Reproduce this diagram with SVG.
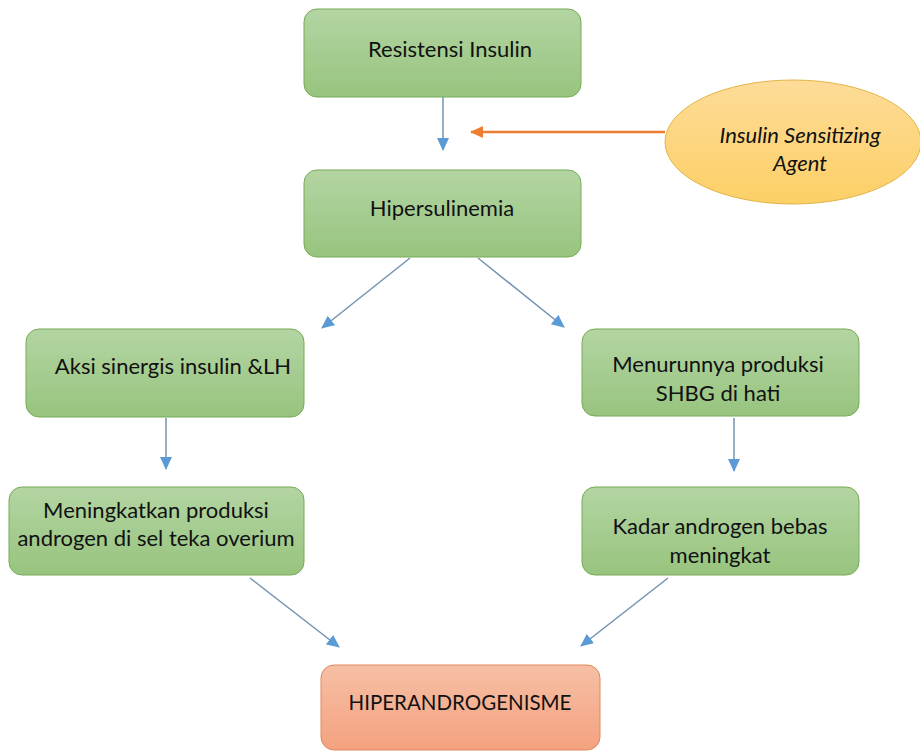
<svg xmlns="http://www.w3.org/2000/svg" width="920" height="751" viewBox="0 0 920 751">
<defs>
<linearGradient id="gGreen" x1="0" y1="0" x2="0" y2="1"><stop offset="0" stop-color="#b4d5a3"/><stop offset="1" stop-color="#97c47e"/></linearGradient>
<linearGradient id="gOrange" x1="0" y1="0" x2="0" y2="1"><stop offset="0" stop-color="#f6bfa5"/><stop offset="1" stop-color="#f4a27f"/></linearGradient>
<linearGradient id="gYellow" x1="0" y1="0" x2="0" y2="1"><stop offset="0" stop-color="#fedc98"/><stop offset="1" stop-color="#fccf66"/></linearGradient>
<marker id="aBlue" viewBox="0 0 13 12" refX="12" refY="6" markerWidth="13" markerHeight="12" orient="auto" markerUnits="userSpaceOnUse"><path d="M0,0 L13,6 L0,12 z" fill="#5b9bd5"/></marker>
<marker id="aOrange" viewBox="0 0 13 12" refX="12" refY="6" markerWidth="13" markerHeight="12" orient="auto" markerUnits="userSpaceOnUse"><path d="M0,0 L13,6 L0,12 z" fill="#ed7d31"/></marker>
</defs>
<style>
.g{fill:url(#gGreen);stroke:#76ab56;stroke-width:1}
.o{fill:url(#gOrange);stroke:#e0895a;stroke-width:1}
.y{fill:url(#gYellow);stroke:#e3b446;stroke-width:1}
text{font-family:"Lato","Noto Sans","Liberation Sans",sans-serif;font-size:22px;fill:#111;text-anchor:middle}
.it{font-style:italic}
.cb{stroke:#7393b3;stroke-width:1.5;fill:none;marker-end:url(#aBlue)}
.co{stroke:#ed7d31;stroke-width:2.5;fill:none;marker-end:url(#aOrange)}
</style>
<g id="connectors">
<line class="cb" x1="443" y1="97" x2="443" y2="150"/>
<line class="co" x1="665" y1="132" x2="471" y2="132"/>
<line class="cb" x1="410" y1="258" x2="322" y2="328"/>
<line class="cb" x1="478" y1="258" x2="564" y2="327"/>
<line class="cb" x1="166" y1="418" x2="166" y2="469"/>
<line class="cb" x1="734" y1="418" x2="734" y2="471"/>
<line class="cb" x1="250" y1="578" x2="339" y2="647"/>
<line class="cb" x1="668" y1="578" x2="581" y2="646"/>
</g>
<g id="node-resistensi">
<rect class="g" x="304" y="9" width="277" height="88" rx="13"/>
<text x="450" y="57">Resistensi Insulin</text>
</g>
<g id="node-agent">
<ellipse class="y" cx="793" cy="142" rx="128" ry="62"/>
<text class="it" x="800" y="143">Insulin Sensitizing</text>
<text class="it" x="800" y="171">Agent</text>
</g>
<g id="node-hipersulinemia">
<rect class="g" x="304" y="170" width="277" height="87" rx="13"/>
<text x="442" y="216">Hipersulinemia</text>
</g>
<g id="node-aksi">
<rect class="g" x="26" y="329" width="278" height="88" rx="13"/>
<text x="173" y="374">Aksi sinergis insulin &amp;LH</text>
</g>
<g id="node-menurunnya">
<rect class="g" x="582" y="329" width="277" height="87" rx="13"/>
<text x="718" y="372">Menurunnya produksi</text>
<text x="718" y="401">SHBG di hati</text>
</g>
<g id="node-meningkatkan">
<rect class="g" x="9" y="487" width="295" height="88" rx="13"/>
<text x="156" y="518">Meningkatkan produksi</text>
<text x="156" y="546">androgen di sel teka overium</text>
</g>
<g id="node-kadar">
<rect class="g" x="582" y="487" width="277" height="88" rx="13"/>
<text x="720" y="534">Kadar androgen bebas</text>
<text x="720" y="563">meningkat</text>
</g>
<g id="node-hiperandrogenisme">
<rect class="o" x="321" y="665" width="279" height="85" rx="13"/>
<text x="460" y="710" style="font-size:20.5px">HIPERANDROGENISME</text>
</g>
</svg>
